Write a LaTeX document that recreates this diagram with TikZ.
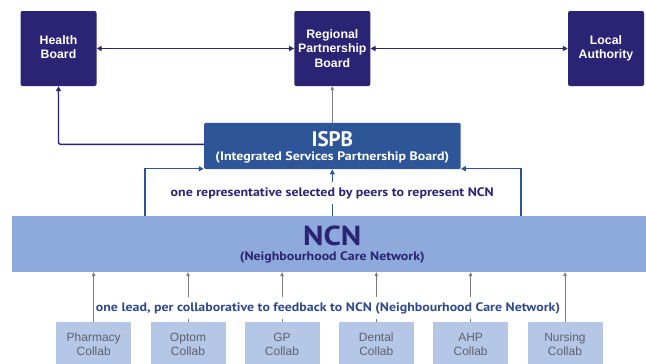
\documentclass[tikz,border=0pt]{standalone}
\usepackage{fontspec}
\setmainfont{Liberation Sans}
\newfontfamily\hum{PT Sans}
\newfontfamily\humwide[FakeStretch=1.13]{PT Sans}
\usetikzlibrary{arrows.meta}
\definecolor{navy}{HTML}{2B2373}
\definecolor{ispbblue}{HTML}{2E5597}
\definecolor{ncnfill}{HTML}{8EA9DB}
\definecolor{collabfill}{HTML}{B4C7E7}
\definecolor{collabtext}{HTML}{5E6070}
\definecolor{leadtext}{HTML}{2F4A8C}
\definecolor{thingray}{HTML}{7A7A7A}
\newcommand{\twolines}[2]{\raisebox{2.5pt}{\begin{tabular}{@{}c@{}}#1\\#2\end{tabular}}}
\tikzset{
  topbox/.style={fill=navy, text=white, rounded corners=2pt, inner sep=0pt,
    minimum width=76pt, minimum height=75pt, align=center,
    font=\bfseries\fontsize{12.3}{14.5}\selectfont},
  collabbox/.style={fill=collabfill, text=collabtext, inner sep=0pt,
    minimum width=75pt, minimum height=44pt, align=center,
    font=\fontsize{12}{14}\selectfont},
  navyarrow/.style={draw=navy, line width=1.4pt, -{Triangle[length=5pt,width=5pt]}},
  navyboth/.style={draw=navy, line width=1.4pt, {Triangle[length=5pt,width=5pt]}-{Triangle[length=5pt,width=5pt]}},
  bluearrow/.style={draw=ispbblue, line width=1.3pt, -{Triangle[length=5pt,width=5pt]}},
  grayarrow/.style={draw=thingray, line width=0.6pt, -{Triangle[length=4pt,width=3.5pt]}},
  subtext/.style={inner sep=0pt, font=\humwide\bfseries\fontsize{12.3}{14}\selectfont},
  midlabel/.style={fill=white, inner xsep=2pt, inner ysep=5pt, font=\humwide\bfseries\fontsize{12.3}{14}\selectfont}
}
\begin{document}
\begin{tikzpicture}[x=1pt,y=-1pt]
\useasboundingbox (0,0) rectangle (646,364);
\fill[white] (0,0) rectangle (646,364);

% top tier
\node[topbox] (hb) at (58.5,48.5) {\twolines{Health}{Board}};
\node[topbox] (rpb) at (332.3,48.5) {Regional\\Partnership\\Board};
\node[topbox] (la) at (606,48.5) {\twolines{Local}{Authority}};
\draw[navyboth] (hb.east) -- (rpb.west);
\draw[navyboth] (rpb.east) -- (la.west);

% ISPB
\node[fill=ispbblue, rounded corners=1.5pt, minimum width=256.6pt, minimum height=46.3pt, inner sep=0pt] (ispb) at (332.3,146) {};
\node[text=white, inner sep=0pt, font=\hum\bfseries\fontsize{21}{24}\selectfont] (ispbT) at (332.3,139) {ISPB};
\node[subtext, text=white] (ispbS) at (332.3,157.5) {(Integrated Services Partnership Board)};
\draw[grayarrow] (ispb.north) -- (rpb.south);
\draw[navyarrow, rounded corners=2pt] (ispb.west |- 0,144.3) -| (hb.south);

% NCN
\node[fill=ncnfill, minimum width=640pt, minimum height=56pt, inner sep=0pt] (ncn) at (332.3,244) {};
\node[text=navy, inner sep=0pt, text depth=0pt, font=\humwide\bfseries\fontsize{27.5}{30}\selectfont] (ncnT) at (332.3,236) {NCN};
\node[subtext, text=navy] (ncnS) at (332.3,257.5) {(Neighbourhood Care Network)};

\draw[bluearrow] (ncn.north -| 145,0) |- ([yshift=0.6pt]ispb.south west);
\draw[bluearrow] (ncn.north -| 521,0) |- ([yshift=0.6pt]ispb.south east);
\draw[bluearrow] (ncn.north) -- (ispb.south);
\node[midlabel, text=navy] (rep) at (332.3,193) {one representative selected by peers to represent NCN};

% collaboratives
\node[collabbox] (c1) at (93.7,344) {Pharmacy\\Collab};
\node[collabbox] (c2) at (188,344) {Optom\\Collab};
\node[collabbox] (c3) at (282,344) {GP\\Collab};
\node[collabbox] (c4) at (376.3,344) {Dental\\Collab};
\node[collabbox] (c5) at (470.6,344) {AHP\\Collab};
\node[collabbox] (c6) at (565,344) {Nursing\\Collab};
\foreach \c in {c1,c2,c3,c4,c5,c6}
  \draw[grayarrow] (\c.north) -- (\c.north |- ncn.south);
\node[midlabel, text=leadtext] (lead) at (328,308) {one lead, per collaborative to feedback to NCN (Neighbourhood Care Network)};
\end{tikzpicture}
\end{document}
